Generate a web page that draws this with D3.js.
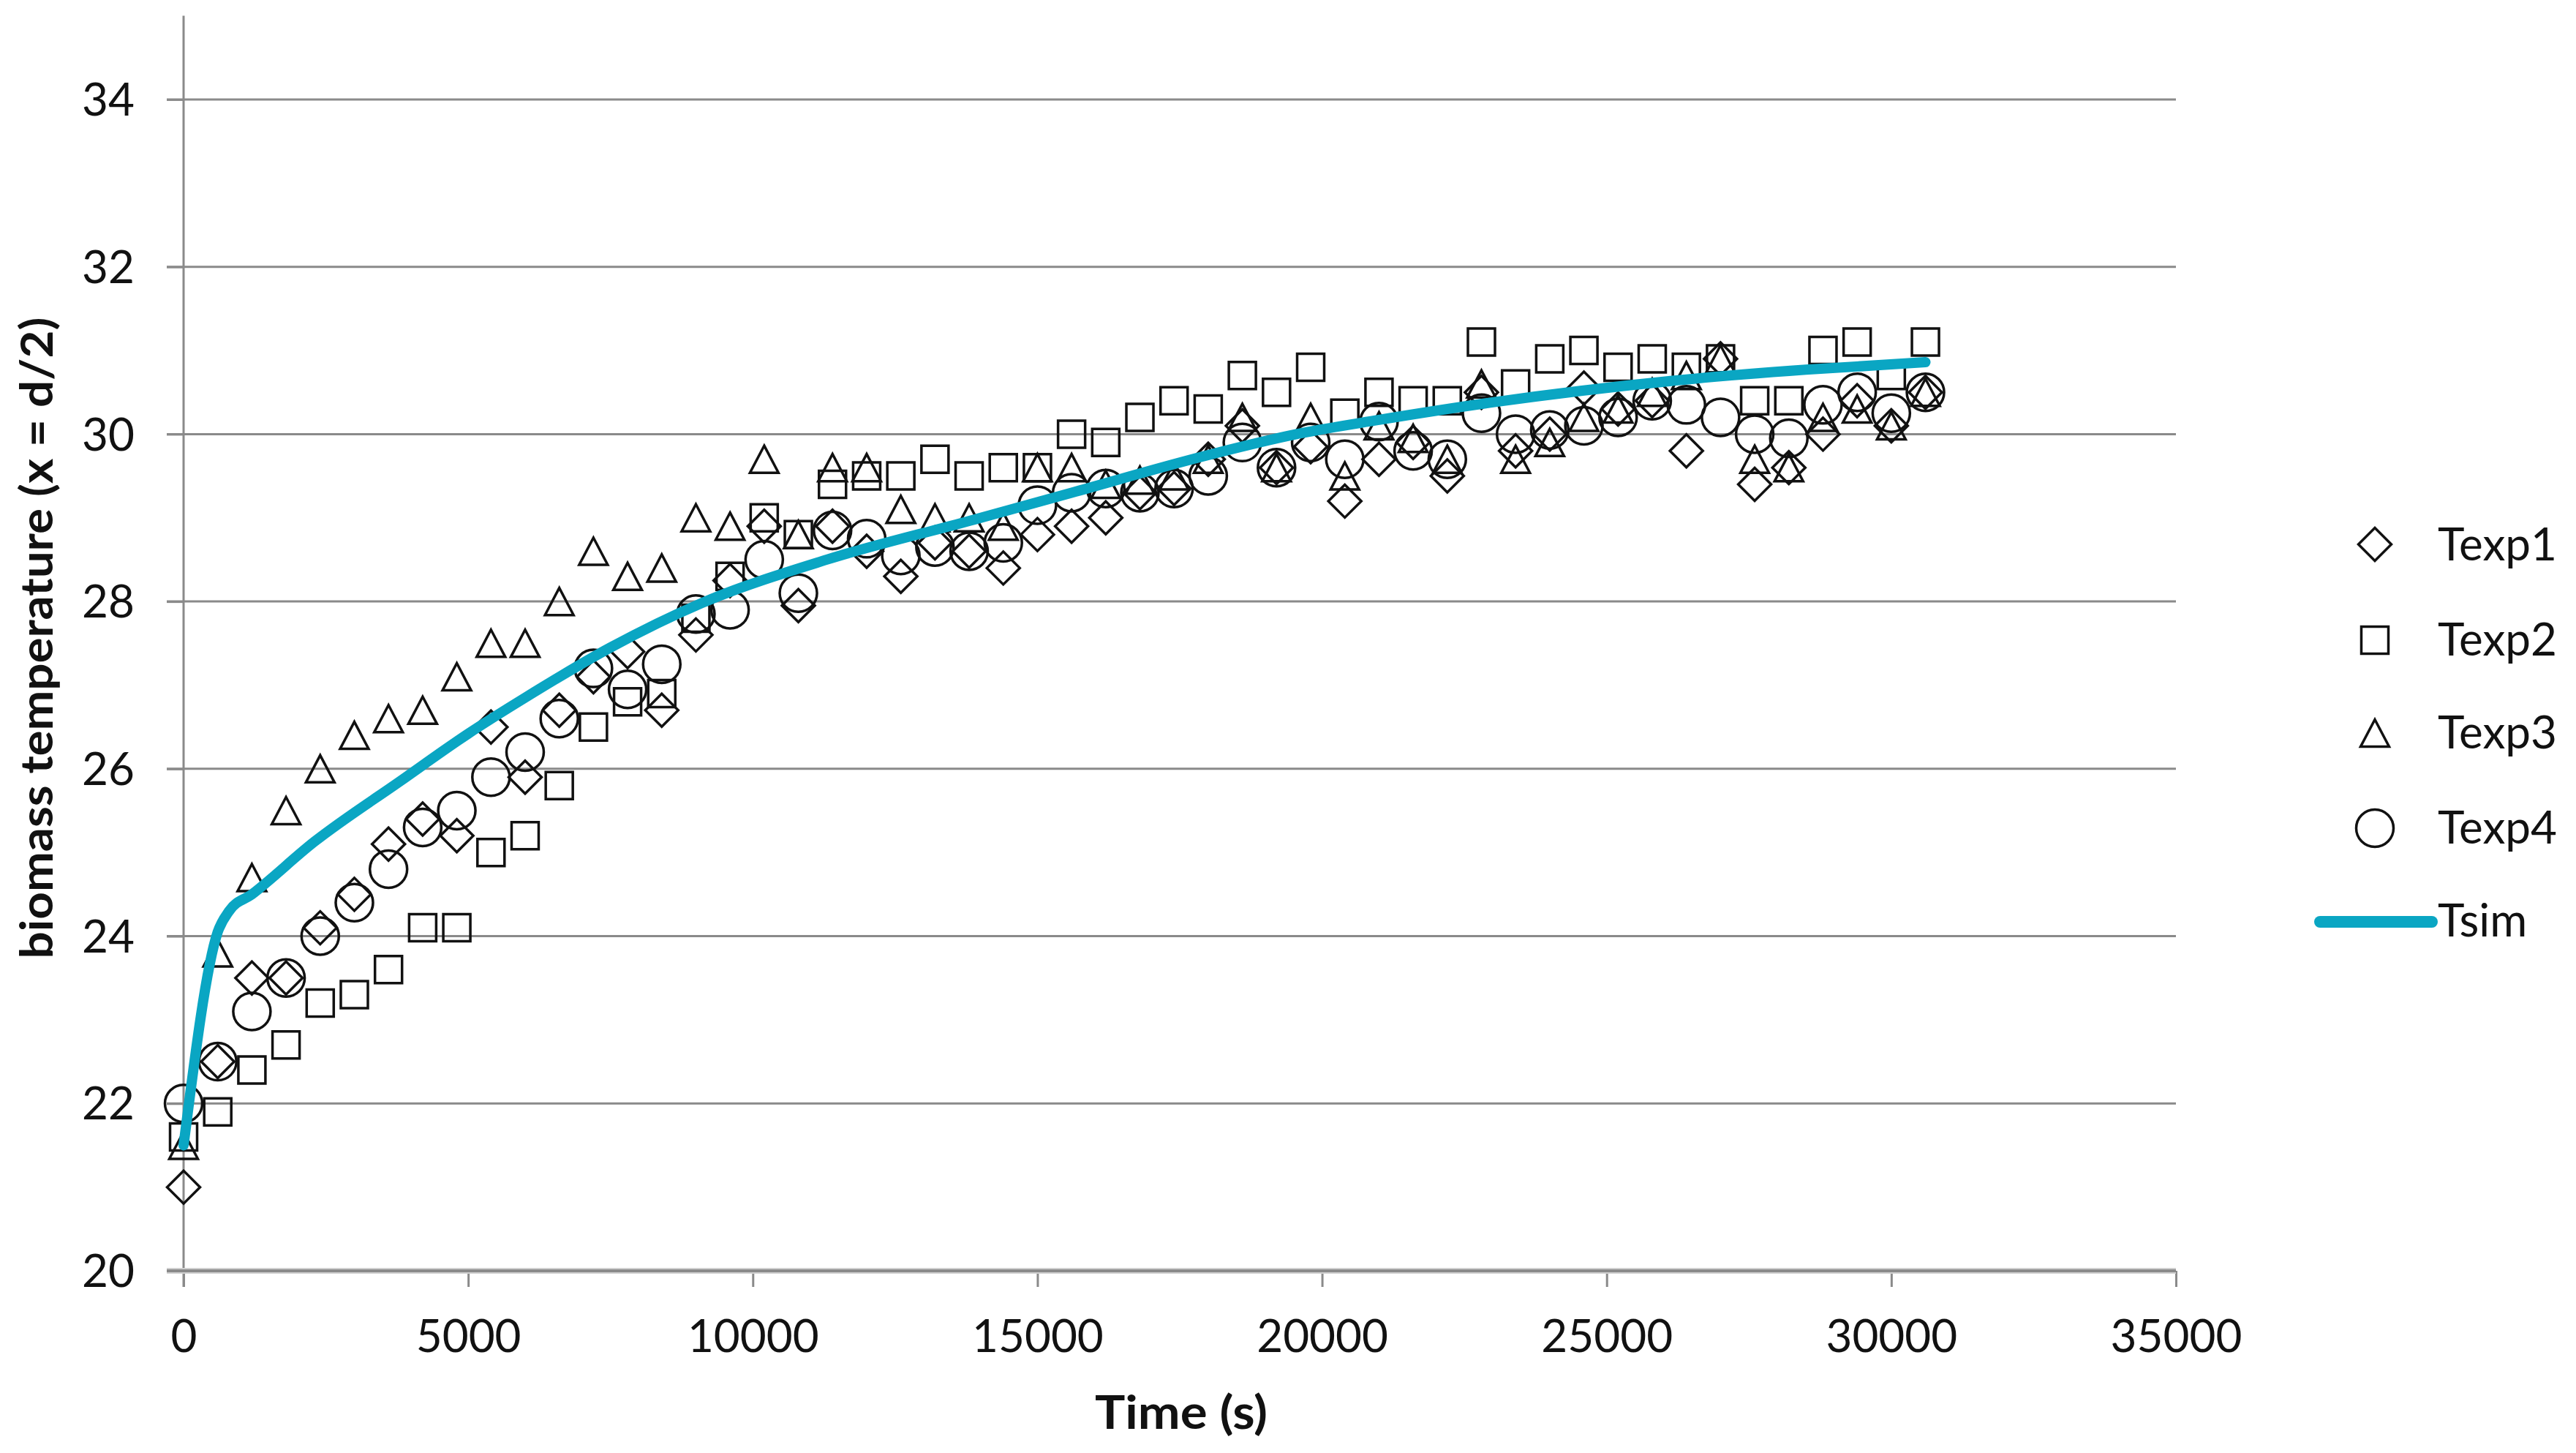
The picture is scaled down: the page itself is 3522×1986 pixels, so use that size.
<!DOCTYPE html>
<html>
<head>
<meta charset="utf-8">
<script src="https://cdn.jsdelivr.net/npm/d3@7/dist/d3.min.js"></script>
<style>
  html, body { margin: 0; padding: 0; background: #ffffff; }
  svg { display: block; }
  text { font-family: Lato, "Open Sans", "Liberation Sans", sans-serif; fill: #111; }
</style>
</head>
<body>
<script>
// ---------------- DATA ----------------
const times = [0,600,1200,1800,2400,3000,3600,4200,4800,5400,
  6000,6600,7200,7800,8400,9000,9600,10200,10800,11400,
  12000,12600,13200,13800,14400,15000,15600,16200,16800,17400,
  18000,18600,19200,19800,20400,21000,21600,22200,22800,23400,
  24000,24600,25200,25800,26400,27000,27600,28200,28800,29400,
  30000,30600];

const texp1 = [21.0,22.5,23.5,23.5,24.1,24.5,25.1,25.4,25.2,26.5,
  25.9,26.7,27.1,27.4,26.7,27.6,28.25,28.9,27.95,28.9,
  28.6,28.3,28.7,28.6,28.4,28.8,28.9,29.0,29.3,29.35,
  29.7,30.1,29.6,29.85,29.2,29.7,29.9,29.5,30.5,29.8,
  30.0,30.55,30.3,30.4,29.8,30.9,29.4,29.6,30.0,30.4,
  30.1,30.5];

const texp2 = [21.6,21.9,22.4,22.7,23.2,23.3,23.6,24.1,24.1,25.0,
  25.2,25.8,26.5,26.8,26.9,27.8,28.3,29.0,28.8,29.4,
  29.5,29.5,29.7,29.5,29.6,29.6,30.0,29.9,30.2,30.4,
  30.3,30.7,30.5,30.8,30.25,30.5,30.4,30.4,31.1,30.6,
  30.9,31.0,30.8,30.9,30.8,30.9,30.4,30.4,31.0,31.1,
  30.7,31.1];

const texp3 = [21.5,23.8,24.7,25.5,26.0,26.4,26.6,26.7,27.1,27.5,
  27.5,28.0,28.6,28.3,28.4,29.0,28.9,29.7,28.8,29.6,
  29.6,29.1,29.0,29.0,28.9,29.6,29.6,29.4,29.45,29.5,
  29.7,30.2,29.6,30.2,29.5,30.1,29.95,29.7,30.6,29.7,
  29.9,30.2,30.3,30.5,30.7,30.9,29.7,29.6,30.2,30.3,
  30.1,30.5];

const texp4 = [22.0,22.5,23.1,23.5,24.0,24.4,24.8,25.3,25.5,25.9,
  26.2,26.6,27.2,26.95,27.25,27.85,27.9,28.5,28.1,28.85,
  28.75,28.55,28.65,28.6,28.7,29.15,29.3,29.35,29.3,29.35,
  29.5,29.9,29.6,29.9,29.7,30.15,29.8,29.7,30.25,30.0,
  30.05,30.1,30.2,30.4,30.35,30.2,30.0,29.95,30.35,30.5,
  30.25,30.5];

const simTimes = [0,600,800,1200,2300,3800,5000,6000,7500,9100,11300,13900,15600,18000,19550,21000,23000,26500,28500,30600];
const simVals  = [21.5,24.05,24.3,24.5,25.13,25.85,26.42,26.85,27.45,27.98,28.5,28.98,29.3,29.75,30.0,30.17,30.38,30.66,30.77,30.86];

const xTicks = [0,5000,10000,15000,20000,25000,30000,35000];
const yTicks = [20,22,24,26,28,30,32,34];
const seriesNames = ["Texp1","Texp2","Texp3","Texp4","Tsim"];

// ---------------- LAYOUT ----------------
const W = 3522, H = 1986;
const svg = d3.select("body").append("svg").attr("width", W).attr("height", H);
svg.append("rect").attr("width", W).attr("height", H).attr("fill", "#fff");

const x = d3.scaleLinear().domain([0, 35000]).range([251, 2975]);
const y = d3.scaleLinear().domain([20, 35]).range([1737, 21.6]);

const gridColor = "#8a8a8a";

// gridlines
svg.append("g").selectAll("line").data(yTicks.filter(v => v > 20)).join("line")
  .attr("x1", 228).attr("x2", x(35000))
  .attr("y1", d => y(d)).attr("y2", d => y(d))
  .attr("stroke", gridColor).attr("stroke-width", 3);

// y axis
const yAxis = svg.append("g").attr("transform", `translate(${x(0)},0)`)
  .call(d3.axisLeft(y).tickValues(yTicks).tickSize(23).tickPadding(44).tickFormat(d3.format("d")));
yAxis.select(".domain").remove();
yAxis.selectAll(".tick line").attr("stroke", gridColor).attr("stroke-width", 3);
yAxis.selectAll(".tick text").attr("font-size", 62).attr("fill", "#111")
  .style("font-family", "Lato, 'Open Sans', sans-serif").attr("dy", "0.35em");
svg.append("line").attr("x1", x(0)).attr("x2", x(0)).attr("y1", y(35)).attr("y2", 1759)
  .attr("stroke", gridColor).attr("stroke-width", 3);

// x axis
const xAxis = svg.append("g").attr("transform", `translate(0,${y(20)})`)
  .call(d3.axisBottom(x).tickValues(xTicks).tickSize(22).tickPadding(45).tickFormat(d3.format("d")));
xAxis.select(".domain").remove();
xAxis.selectAll(".tick line").attr("stroke", gridColor).attr("stroke-width", 3);
xAxis.selectAll(".tick text").attr("font-size", 62).attr("fill", "#111")
  .style("font-family", "Lato, 'Open Sans', sans-serif");
svg.append("line").attr("x1", 228).attr("x2", x(35000)).attr("y1", y(20)).attr("y2", y(20))
  .attr("stroke", "#d0d0d0").attr("stroke-width", 8);
svg.append("line").attr("x1", 228).attr("x2", x(35000)).attr("y1", y(20)).attr("y2", y(20))
  .attr("stroke", gridColor).attr("stroke-width", 4);

// axis titles
svg.append("text").attr("x", 1615).attr("y", 1953).attr("text-anchor", "middle")
  .attr("font-size", 64).attr("font-weight", "bold")
  .attr("textLength", 236).attr("lengthAdjust", "spacingAndGlyphs")
  .text("Time (s)");
svg.append("text").attr("transform", "translate(72,872) rotate(-90)").attr("text-anchor", "middle")
  .attr("font-size", 62).attr("font-weight", "bold")
  .attr("textLength", 877).attr("lengthAdjust", "spacingAndGlyphs")
  .text("biomass temperature (x = d/2)");

// ---------------- SYMBOLS ----------------
const symDiamond = { draw(c, r) { c.moveTo(0,-r); c.lineTo(r,0); c.lineTo(0,r); c.lineTo(-r,0); c.closePath(); } };
const symSquare  = { draw(c, r) { c.rect(-r,-r,2*r,2*r); } };
const symTri     = { draw(c, r) { const h = r*0.95; c.moveTo(0,-h); c.lineTo(r,h); c.lineTo(-r,h); c.closePath(); } };
const symCircle  = { draw(c, r) { c.moveTo(r,0); c.arc(0,0,r,0,2*Math.PI); c.closePath(); } };

const series = [
  { name: seriesNames[0], vals: texp1, type: symDiamond, size: 22.5 },
  { name: seriesNames[1], vals: texp2, type: symSquare,  size: 18.5 },
  { name: seriesNames[2], vals: texp3, type: symTri,     size: 19.5 },
  { name: seriesNames[3], vals: texp4, type: symCircle,  size: 25.5 }
];

const plot = svg.append("g");
series.forEach(s => {
  const sym = d3.symbol().type(s.type).size(s.size);
  plot.append("g").selectAll("path").data(times.map((t, i) => [t, s.vals[i]])).join("path")
    .attr("d", sym)
    .attr("transform", d => `translate(${x(d[0])},${y(d[1])})`)
    .attr("fill", "none").attr("stroke", "#111").attr("stroke-width", 3.5);
});

// simulation line
const lineColor = "#0aa6c3";
const line = d3.line().x(d => x(d[0])).y(d => y(d[1])).curve(d3.curveMonotoneX);
plot.append("path").datum(simTimes.map((t, i) => [t, simVals[i]]))
  .attr("d", line).attr("fill", "none").attr("stroke", lineColor)
  .attr("stroke-width", 14).attr("stroke-linecap", "round").attr("stroke-linejoin", "round");

// ---------------- LEGEND ----------------
const legY = [744, 875, 1002, 1132];
const legBase = [766, 896, 1023, 1153];
series.forEach((s, i) => {
  svg.append("path").attr("d", d3.symbol().type(s.type).size(s.size))
    .attr("transform", `translate(3247,${legY[i]})`)
    .attr("fill", "none").attr("stroke", "#111").attr("stroke-width", 3.5);
  svg.append("text").attr("x", 3333).attr("y", legBase[i]).attr("font-size", 62).text(s.name);
});
svg.append("line").attr("x1", 3172).attr("x2", 3325).attr("y1", 1260).attr("y2", 1260)
  .attr("stroke", lineColor).attr("stroke-width", 16).attr("stroke-linecap", "round");
svg.append("text").attr("x", 3333).attr("y", 1280).attr("font-size", 62).text(seriesNames[4]);
</script>
</body>
</html>
